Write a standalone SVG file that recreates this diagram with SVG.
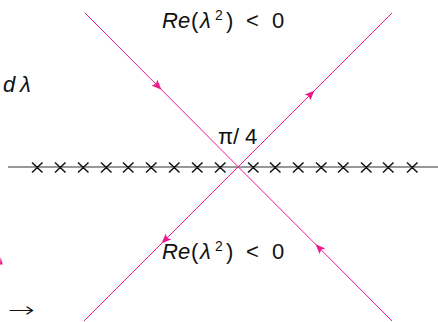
<svg xmlns="http://www.w3.org/2000/svg" width="438" height="322" viewBox="0 0 438 322">
<style>
.c{fill:none;stroke:#ec1a8c;stroke-width:1}
.ax{stroke:#333;stroke-width:1.1}
.x{stroke:#111;stroke-width:1.5}
text{font-family:"Liberation Sans","DejaVu Sans",sans-serif;font-size:22px;fill:#111}
.i{font-style:italic}
.s{font-size:14px}
</style>
<defs>
<marker id="ah" viewBox="0 0 10 8" refX="5" refY="4" markerWidth="10" markerHeight="8" markerUnits="userSpaceOnUse" orient="auto">
<path d="M0,0 L10,4 L0,8 L2,4 Z" fill="#ec1a8c"/>
</marker>
</defs>
<g id="axis">
<line class="ax" x1="8" y1="167" x2="438" y2="167"/>
<g id="crosses">
<path class="x" d="M32,162.5 l10.5,10 m0,-10 l-10.5,10 M55,162.5 l10.5,10 m0,-10 l-10.5,10 M78,162.5 l10.5,10 m0,-10 l-10.5,10 M101,162.5 l10.5,10 m0,-10 l-10.5,10 M123,162.5 l10.5,10 m0,-10 l-10.5,10 M146,162.5 l10.5,10 m0,-10 l-10.5,10 M169,162.5 l10.5,10 m0,-10 l-10.5,10 M192,162.5 l10.5,10 m0,-10 l-10.5,10 M215,162.5 l10.5,10 m0,-10 l-10.5,10 M248,162.5 l10.5,10 m0,-10 l-10.5,10 M270,162.5 l10.5,10 m0,-10 l-10.5,10 M293,162.5 l10.5,10 m0,-10 l-10.5,10 M316,162.5 l10.5,10 m0,-10 l-10.5,10 M338,162.5 l10.5,10 m0,-10 l-10.5,10 M361,162.5 l10.5,10 m0,-10 l-10.5,10 M383,162.5 l10.5,10 m0,-10 l-10.5,10 M407,162.5 l10.5,10 m0,-10 l-10.5,10"/>
</g>
</g>
<g id="connectors">
<path class="c" d="M85,13 L158,86.2 L238.2,166.8" marker-mid="url(#ah)"/>
<path class="c" d="M392,321 L319,247.7 L238.2,166.8" marker-mid="url(#ah)"/>
<path class="c" d="M238.2,166.8 L311,94 L392,13" marker-mid="url(#ah)"/>
<path class="c" d="M238.2,166.8 L165,240 L84,321" marker-mid="url(#ah)"/>
<polygon points="0,264.5 2.8,264.5 0.6,257" fill="#ec1a8c"/>
</g>
<g id="label-top">
<text y="28"><tspan class="i" x="162">Re</tspan><tspan x="191">(</tspan><tspan class="i" x="200">λ</tspan><tspan class="s" x="215" y="20">2</tspan><tspan x="226" y="28">)</tspan><tspan x="246">&lt;</tspan><tspan x="272">0</tspan></text>
</g>
<g id="label-bottom">
<text y="259"><tspan class="i" x="162">Re</tspan><tspan x="191">(</tspan><tspan class="i" x="200">λ</tspan><tspan class="s" x="215" y="251">2</tspan><tspan x="226" y="259">)</tspan><tspan x="246">&lt;</tspan><tspan x="272">0</tspan></text>
</g>
<g id="label-dl">
<text y="92"><tspan class="i" x="3">d</tspan><tspan class="i" x="20">λ</tspan></text>
</g>
<g id="label-angle">
<text y="144"><tspan x="218">π</tspan><tspan x="233">/</tspan><tspan x="245">4</tspan></text>
</g>
<g id="label-arrow">
<text x="8" y="317" textLength="27" lengthAdjust="spacingAndGlyphs" style="font-family:'DejaVu Sans',sans-serif;font-size:21px;font-weight:200">→</text>
</g>
</svg>
